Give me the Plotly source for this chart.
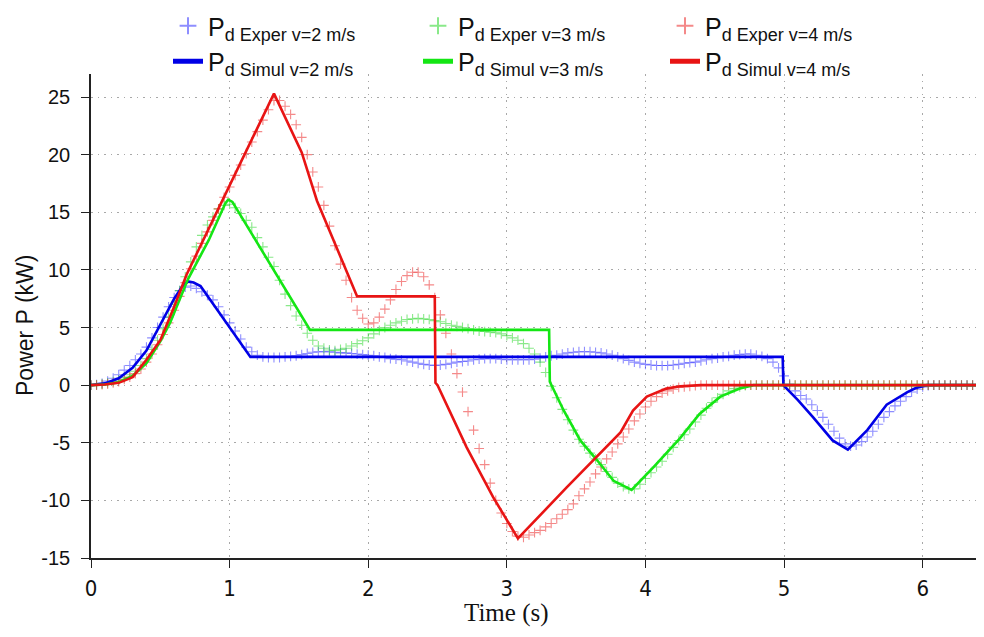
import plotly.graph_objects as go

# ---------------- data ----------------
t_exper = [
    0.00, 0.04, 0.08, 0.12, 0.16, 0.20, 0.24, 0.28, 0.32, 0.36,
    0.40, 0.44, 0.48, 0.52, 0.56, 0.60, 0.64, 0.68, 0.72, 0.76,
    0.80, 0.84, 0.88, 0.92, 0.96, 1.00, 1.04, 1.08, 1.12, 1.16,
    1.20, 1.24, 1.28, 1.32, 1.36, 1.40, 1.44, 1.48, 1.52, 1.56,
    1.60, 1.64, 1.68, 1.72, 1.76, 1.80, 1.84, 1.88, 1.92, 1.96,
    2.00, 2.04, 2.08, 2.12, 2.16, 2.20, 2.24, 2.28, 2.32, 2.36,
    2.40, 2.44, 2.48, 2.52, 2.56, 2.60, 2.64, 2.68, 2.72, 2.76,
    2.80, 2.84, 2.88, 2.92, 2.96, 3.00, 3.04, 3.08, 3.12, 3.16,
    3.20, 3.24, 3.28, 3.32, 3.36, 3.40, 3.44, 3.48, 3.52, 3.56,
    3.60, 3.64, 3.68, 3.72, 3.76, 3.80, 3.84, 3.88, 3.92, 3.96,
    4.00, 4.04, 4.08, 4.12, 4.16, 4.20, 4.24, 4.28, 4.32, 4.36,
    4.40, 4.44, 4.48, 4.52, 4.56, 4.60, 4.64, 4.68, 4.72, 4.76,
    4.80, 4.84, 4.88, 4.92, 4.96, 5.00, 5.04, 5.08, 5.12, 5.16,
    5.20, 5.24, 5.28, 5.32, 5.36, 5.40, 5.44, 5.48, 5.52, 5.56,
    5.60, 5.64, 5.68, 5.72, 5.76, 5.80, 5.84, 5.88, 5.92, 5.96,
    6.00, 6.04, 6.08, 6.12, 6.16, 6.20, 6.24, 6.28, 6.32, 6.36,
    6.40, 6.44, 6.48,
]

p_exper_v2 = [
    0.0, 0.05, 0.15, 0.35, 0.6, 0.9, 1.3, 1.7, 2.2, 2.7,
    3.3, 4.1, 5.0, 5.9, 6.8, 7.6, 8.2, 8.5, 8.6, 8.4,
    8.1, 7.8, 7.4, 6.8, 6.1, 5.4, 4.7, 4.0, 3.3, 2.9,
    2.6, 2.45, 2.4, 2.4, 2.4, 2.45, 2.5, 2.55, 2.65, 2.75,
    2.85, 2.9, 2.9, 2.9, 2.85, 2.8, 2.8, 2.75, 2.7, 2.65,
    2.6, 2.55, 2.45, 2.4, 2.3, 2.25, 2.2, 2.1, 2.0, 1.9,
    1.8, 1.75, 1.7, 1.75, 1.8, 1.9, 2.0, 2.05, 2.1, 2.2,
    2.25, 2.3, 2.3, 2.3, 2.25, 2.2, 2.2, 2.2, 2.2, 2.2,
    2.25, 2.35, 2.45, 2.55, 2.6, 2.7, 2.8, 2.85, 2.9, 2.9,
    2.9, 2.85, 2.8, 2.7, 2.6, 2.45, 2.3, 2.15, 2.0, 1.9,
    1.8, 1.75, 1.7, 1.7, 1.7, 1.75, 1.8, 1.9, 1.95, 2.0,
    2.1, 2.2, 2.3, 2.35, 2.45, 2.5, 2.6, 2.65, 2.7, 2.7,
    2.6, 2.5, 2.3, 2.0, 1.5, 0.8, 0.1, -0.5, -0.9, -1.2,
    -1.7, -2.2, -2.8, -3.4, -4.0, -4.6, -5.1, -5.3, -5.2, -4.9,
    -4.5, -4.0, -3.4, -2.8, -2.3, -1.8, -1.4, -1.0, -0.6, -0.35,
    -0.15, -0.05, 0.0, 0.0, 0.0, 0.0, 0.0, 0.0, 0.0, 0.0,
    0.0, 0.0, 0.0,
]

p_exper_v3 = [
    0.0, 0.02, 0.08, 0.2, 0.3, 0.45, 0.65, 0.9, 1.2, 1.7,
    2.3, 3.1, 3.9, 4.9, 5.9, 7.0, 8.2, 9.4, 10.7, 12.0,
    13.0, 13.9, 14.6, 15.3, 15.6, 15.7, 15.4, 14.9, 14.3, 13.7,
    12.8, 12.0, 11.1, 10.3, 9.1, 7.9, 6.9, 6.0, 5.2, 4.5,
    3.9, 3.4, 3.2, 3.05, 3.0, 3.1, 3.2, 3.4, 3.6, 3.85,
    4.1, 4.45, 4.75, 5.0, 5.2, 5.4, 5.55, 5.7, 5.75, 5.8,
    5.75, 5.7, 5.6, 5.5, 5.35, 5.2, 5.1, 5.0, 4.9, 4.8,
    4.7, 4.65, 4.6, 4.55, 4.45, 4.3, 4.1, 3.9, 3.6, 3.2,
    2.7, 2.0, 1.1, -0.1, -1.1, -2.1, -3.0, -3.9, -4.7, -5.3,
    -5.9, -6.4, -6.9, -7.5, -8.0, -8.5, -8.8, -9.0, -9.0, -8.6,
    -8.1, -7.6, -7.1, -6.6, -6.0, -5.4, -4.8, -4.3, -3.8, -3.2,
    -2.6, -2.0, -1.5, -1.1, -0.8, -0.5, -0.3, -0.15, -0.05, 0.0,
    0.0, 0.0, 0.0, 0.0, 0.0, 0.0, 0.0, 0.0, 0.0, 0.0,
    0.0, 0.0, 0.0, 0.0, 0.0, 0.0, 0.0, 0.0, 0.0, 0.0,
    0.0, 0.0, 0.0, 0.0, 0.0, 0.0, 0.0, 0.0, 0.0, 0.0,
    0.0, 0.0, 0.0, 0.0, 0.0, 0.0, 0.0, 0.0, 0.0, 0.0,
    0.0, 0.0, 0.0,
]

p_exper_v4 = [
    0.0, 0.0, 0.05, 0.1, 0.2, 0.3, 0.5, 0.7, 1.0, 1.4,
    2.0, 2.7, 3.5, 4.4, 5.4, 6.5, 7.7, 8.9, 10.1, 11.2,
    12.3, 13.3, 14.3, 15.3, 16.3, 17.2, 18.2, 19.1, 20.1, 21.1,
    22.0, 23.0, 23.9, 24.7, 24.7, 24.2, 23.5, 22.6, 21.5, 20.0,
    18.5, 17.2, 15.6, 13.8, 12.1, 10.5, 9.1, 7.6, 6.5, 5.8,
    5.3, 5.4, 5.9, 6.6, 7.4, 8.3, 9.0, 9.5, 9.8, 9.8,
    9.4, 8.7, 7.6, 6.1, 4.5, 2.7, 1.0, -0.6, -2.3, -3.9,
    -5.5, -6.9, -8.5, -10.0, -11.1, -12.0, -12.7, -13.1, -13.2, -13.0,
    -12.8, -12.6, -12.3, -12.0, -11.6, -11.2, -10.8, -10.3, -9.6, -9.0,
    -8.4, -7.7, -7.1, -6.4, -5.8, -5.1, -4.5, -3.8, -3.1, -2.5,
    -1.9, -1.4, -1.0, -0.7, -0.5, -0.35, -0.2, -0.15, -0.1, -0.05,
    0.0, 0.0, 0.0, 0.0, 0.0, 0.0, 0.0, 0.0, 0.0, 0.0,
    0.0, 0.0, 0.0, 0.0, 0.0, 0.0, 0.0, 0.0, 0.0, 0.0,
    0.0, 0.0, 0.0, 0.0, 0.0, 0.0, 0.0, 0.0, 0.0, 0.0,
    0.0, 0.0, 0.0, 0.0, 0.0, 0.0, 0.0, 0.0, 0.0, 0.0,
    0.0, 0.0, 0.0, 0.0, 0.0, 0.0, 0.0, 0.0, 0.0, 0.0,
    0.0, 0.0, 0.0,
]

t_simul_v2 = [0.0, 0.1, 0.2, 0.3, 0.4, 0.5, 0.6, 0.66, 0.7, 0.74, 0.79, 1.15,
              4.99, 4.995, 5.1, 5.21, 5.35, 5.46, 5.6, 5.74, 5.89, 5.95, 6.03, 6.5]
p_simul_v2 = [0.0, 0.15, 0.6, 1.5, 3.0, 5.2, 7.5, 8.6, 9.0, 8.9, 8.6, 2.45,
              2.45, 0.0, -1.3, -2.8, -4.8, -5.6, -3.9, -1.7, -0.6, -0.25, 0.0, 0.0]

t_simul_v3 = [0.0, 0.1, 0.2, 0.3, 0.4, 0.5, 0.57, 0.7, 0.85, 0.97, 0.99, 1.02, 1.58,
              3.305, 3.31, 3.41, 3.53, 3.65, 3.77, 3.9, 4.06, 4.25, 4.39, 4.54, 4.68, 4.78, 6.5]
p_simul_v3 = [0.0, 0.05, 0.25, 0.8, 1.9, 3.8, 5.4, 9.2, 12.6, 15.8, 16.1, 15.9, 4.8,
              4.8, 0.3, -2.2, -4.8, -6.5, -8.3, -9.1, -7.1, -4.6, -2.5, -1.0, -0.3, 0.0, 0.0]

t_simul_v4 = [0.0, 0.1, 0.2, 0.3, 0.4, 0.5, 0.6, 0.69, 1.32, 1.52, 1.63, 1.92, 2.48,
              2.485, 2.5, 2.71, 2.9, 3.08, 3.43, 3.82, 3.91, 4.01, 4.15, 4.25, 4.4, 6.5]
p_simul_v4 = [0.0, 0.05, 0.2, 0.7, 2.2, 3.9, 6.8, 9.6, 25.3, 20.2, 16.0, 7.7, 7.7,
              0.2, 0.0, -5.4, -9.7, -13.3, -8.9, -4.1, -2.2, -1.0, -0.3, -0.1, 0.0, 0.0]

speeds = ["v=2 m/s", "v=3 m/s", "v=4 m/s"]
x_ticks = [0, 1, 2, 3, 4, 5, 6]
y_ticks = [-15, -10, -5, 0, 5, 10, 15, 20, 25]

# ---------------- styles ----------------
marker_colors = ["rgba(50,50,255,0.55)", "rgba(40,215,40,0.55)", "rgba(235,40,40,0.55)"]
line_colors = ["#0000e6", "#14e614", "#e81414"]
legend_ids = ["legend", "legend2", "legend3"]
SUB = "<sub><span style='font-size:18px'>d {kind} {v}</span></sub>"


def legend_name(kind, v):
    return "P" + SUB.format(kind=kind, v=v)


fig = go.Figure()

exper_sets = [p_exper_v2, p_exper_v3, p_exper_v4]
simul_sets = [(t_simul_v2, p_simul_v2), (t_simul_v3, p_simul_v3), (t_simul_v4, p_simul_v4)]

for i in range(3):
    fig.add_trace(go.Scatter(
        x=t_exper, y=exper_sets[i], mode="markers", name=legend_name("Exper", speeds[i]),
        legend=legend_ids[i], legendrank=1,
        marker=dict(symbol="cross-thin", size=7,
                    line=dict(width=1.1, color=marker_colors[i]), color=marker_colors[i]),
    ))
for i in range(3):
    fig.add_trace(go.Scatter(
        x=simul_sets[i][0], y=simul_sets[i][1], mode="lines", name=legend_name("Simul", speeds[i]),
        legend=legend_ids[i], legendrank=2,
        line=dict(color=line_colors[i], width=2.6),
    ))

legend_font = dict(family="Liberation Sans, Arial, sans-serif", size=25, color="#111111")
legend_x = [160, 410, 657]
for i, lid in enumerate(legend_ids):
    fig.update_layout(**{lid: dict(
        xref="container", yref="paper",
        x=legend_x[i] / 984, y=1 + (74 - 3) / 484,
        xanchor="left", yanchor="top",
        orientation="v", bgcolor="rgba(0,0,0,0)", borderwidth=0,
        font=legend_font, itemsizing="constant", tracegroupgap=0,
        traceorder="normal",
    )})

grid = dict(showgrid=True, gridcolor="#a8a8a8", gridwidth=1, griddash="1.5px,5px")

# page shows the figure offset by the 8px body margin: plot area on page = x 91..992, y 74..558
PW = 901.0
fig.update_layout(
    width=984, height=637,
    margin=dict(l=83, r=0, t=66, b=87, pad=0, autoexpand=False),
    paper_bgcolor="white", plot_bgcolor="white",
    showlegend=True,
    xaxis=dict(range=[0, 6.50], tickvals=x_ticks, ticktext=[str(v) for v in x_ticks],
               showline=True, linecolor="#222222", linewidth=1.6,
               ticks="outside", ticklen=8, tickwidth=1.4, tickcolor="#222222",
               zeroline=False, ticklabelstandoff=2,
               tickfont=dict(family="Liberation Sans Narrow, DejaVu Sans Condensed, Liberation Sans, Arial",
                             size=22, color="#111111"),
               **grid),
    yaxis=dict(range=[-15, 27], tickvals=y_ticks, ticktext=[str(v) for v in y_ticks],
               showline=True, linecolor="#222222", linewidth=1.6,
               ticks="outside", ticklen=8, tickwidth=1.4, tickcolor="#222222",
               zeroline=False, ticklabelstandoff=7,
               tickfont=dict(family="Liberation Sans, Arial, sans-serif", size=20, color="#111111"),
               **grid),
    annotations=[
        dict(text="Time (s)", xref="paper", yref="paper", x=(506 - 91) / PW, y=-(613 - 558) / 484,
             xanchor="center", yanchor="middle", showarrow=False,
             font=dict(family="Liberation Serif, Times New Roman, serif", size=25, color="#111111")),
        dict(text="Power P (kW)", xref="paper", yref="paper", x=(25 - 91) / PW, y=(558 - 326) / 484,
             xanchor="center", yanchor="middle", showarrow=False, textangle=-90,
             font=dict(family="Liberation Sans, Arial, sans-serif", size=23, color="#111111")),
    ],
)

fig.write_html("out.html")
